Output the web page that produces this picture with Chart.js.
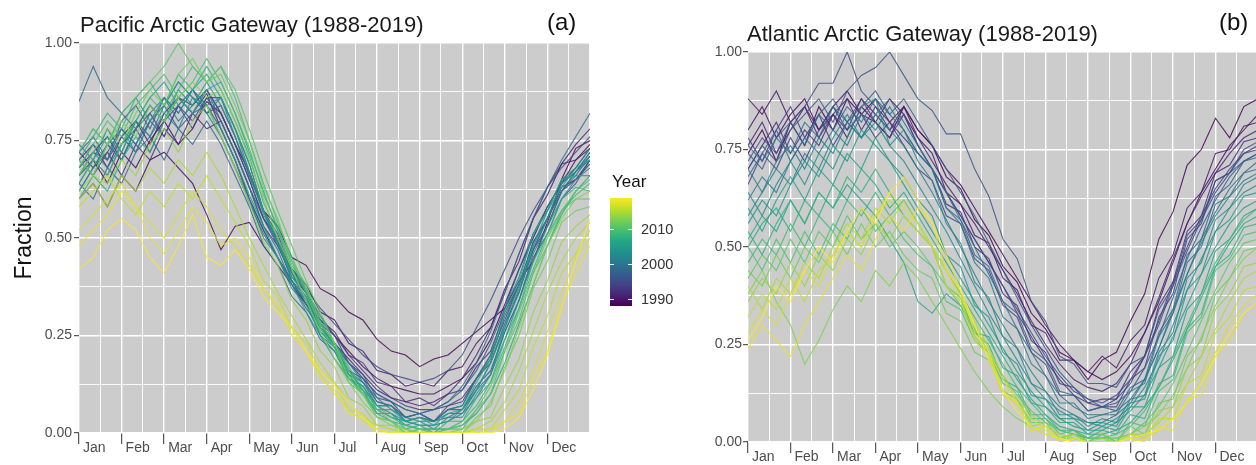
<!DOCTYPE html>
<html>
  <head>
    <title>Arctic Gateways - Fraction by Year (1988-2019)</title>
    <script src="https://cdn.jsdelivr.net/npm/chart.js"></script>
    <style>
      body {
        margin: 0;
        padding: 0;
        background: #fff;
        font-family: "Liberation Sans", Arial, sans-serif;
        overflow: hidden;
      }

      #page {
        position: relative;
        width: 1256px;
        height: 465px;
        overflow: hidden;
      }

      .title {
        position: absolute;
        font-size: 22px;
        line-height: 1;
        color: #1a1a1a;
        white-space: nowrap;
      }

      .tag {
        position: absolute;
        font-size: 24px;
        line-height: 1;
        color: #111;
      }

      #pacific-box {
        position: absolute;
        left: 0;
        top: 0;
      }

      #atlantic-box {
        position: absolute;
        left: 640px;
        top: 0;
      }

      #legend-title {
        position: absolute;
        left: 612px;
        top: 173px;
        font-size: 17px;
        line-height: 1;
        color: #111;
      }

      #colorbar {
        position: absolute;
        left: 610px;
        top: 198px;
        width: 22px;
        height: 108px;
      }

      .bar-tick {
        position: absolute;
        width: 4px;
        height: 1px;
        background: rgba(255, 255, 255, 0.9);
      }

      .bar-label {
        position: absolute;
        left: 641px;
        font-size: 14.5px;
        line-height: 1;
        color: #333;
      }
    </style>
  </head>
  <body>
    <div id="page">
      <div id="pacific-box">
        <canvas id="pacific-chart" width="592" height="465"></canvas>
      </div>
      <div id="atlantic-box">
        <canvas id="atlantic-chart" width="618" height="465"></canvas>
      </div>

      <div class="title" style="left: 80px; top: 14px">Pacific Arctic Gateway (1988-2019)</div>
      <div class="title" style="left: 747px; top: 23px">Atlantic Arctic Gateway (1988-2019)</div>
      <div class="tag" style="left: 547px; top: 10px">(a)</div>
      <div class="tag" style="left: 1219px; top: 10px">(b)</div>

      <div id="legend-title">Year</div>
      <div id="colorbar"></div>
      <div id="bar-ticks"></div>
    </div>

    <script>
      // x positions: dekads (about every 10 days) from Jan 1 (0) to Dec 31 (36)
      const dekads = [0, 1, 2, 3, 4, 5, 6, 7, 8, 9, 10, 11, 12, 13, 14, 15, 16, 17, 18,
        19, 20, 21, 22, 23, 24, 25, 26, 27, 28, 29, 30, 31, 32, 33, 34, 35, 36];
      const monthNames = ["Jan", "Feb", "Mar", "Apr", "May", "Jun", "Jul", "Aug", "Sep", "Oct", "Nov", "Dec"];
      const years = [1988, 1989, 1990, 1991, 1992, 1993, 1994, 1995, 1996, 1997, 1998, 1999,
        2000, 2001, 2002, 2003, 2004, 2005, 2006, 2007, 2008, 2009, 2010, 2011, 2012, 2013,
        2014, 2015, 2016, 2017, 2018, 2019];
      const legendYears = [1990, 2000, 2010];

      // Pacific Arctic Gateway, fraction in percent, one value per dekad
      const pac1988 = [66,70,64,72,68,75,80,74,78,85,82,74,67,57,53,45,43,37,35,31,29,24,21,20,17,19,20,23,26,29,32,39,44,54,65,73,75];
      const pac1989 = [60,64,58,66,62,70,72,68,64,56,47,53,54,48,43,38,33,29,25,21,17,14,12,11,10,10,12,14,18,24,33,42,50,58,64,70,74];
      const pac1990 = [70,74,68,76,80,74,82,86,84,88,82,74,65,55,50,42,38,31,29,23,21,16,15,12,13,12,16,17,23,27,37,44,55,61,69,70,73];
      const pac1991 = [72,68,74,70,78,84,80,86,82,87,78,70,60,52,45,39,33,28,23,19,15,11,9,8,7,8,10,14,20,27,36,46,55,63,69,74,78];
      const pac1992 = [62,68,72,66,74,70,78,74,82,78,80,72,63,53,48,40,36,29,26,20,18,13,12,8,9,7,10,11,17,21,31,38,49,55,63,65,70];
      const pac1993 = [68,72,76,70,78,82,76,84,88,82,84,76,66,57,49,42,36,30,25,20,16,12,9,7,6,6,7,9,14,20,29,38,47,55,62,67,72];
      const pac1994 = [64,70,66,74,78,72,80,84,78,86,86,78,69,57,51,41,36,28,25,18,15,9,8,4,5,3,7,8,14,18,28,36,47,53,62,65,69];
      const pac1995 = [70,66,72,78,74,80,76,84,80,86,80,72,63,55,48,42,37,32,28,24,20,17,15,14,13,14,16,20,27,34,42,50,57,63,68,72,76];
      const pac1996 = [66,72,70,76,72,80,84,78,82,88,82,74,65,55,49,39,35,27,23,16,14,8,7,4,5,3,6,6,12,16,26,34,45,51,60,64,70];
      const pac1997 = [72,76,70,80,84,78,86,82,88,84,78,70,60,52,45,38,32,27,22,18,14,10,8,6,5,6,8,11,16,23,32,42,51,58,64,68,73];
      const pac1998 = [64,60,68,64,72,76,70,78,74,80,74,66,58,48,43,35,31,24,21,14,12,7,7,3,4,3,6,7,14,19,30,38,49,55,64,67,71];
      const pac1999 = [85,94,86,82,78,84,80,86,82,84,76,68,59,51,45,39,33,28,23,18,14,10,8,6,5,6,8,12,18,26,36,46,55,63,70,76,82];
      const pac2000 = [68,74,70,78,74,82,86,80,84,88,80,72,63,53,47,38,34,26,23,16,13,8,7,4,5,3,5,5,11,15,26,34,46,53,62,66,71];
      const pac2001 = [74,70,78,72,80,76,84,90,86,82,86,76,66,57,48,41,34,28,23,18,13,9,6,4,3,3,4,6,11,18,27,37,47,55,62,67,70];
      const pac2002 = [66,72,68,74,80,76,82,78,86,82,76,68,60,50,45,37,33,25,22,15,13,7,7,3,4,3,6,7,14,20,32,40,51,57,65,68,73];
      const pac2003 = [70,66,74,78,72,80,86,82,88,84,86,78,67,57,49,41,34,28,22,16,11,7,5,3,2,2,3,5,9,15,24,34,44,53,60,65,68];
      const pac2004 = [62,68,74,70,78,84,80,88,84,90,84,76,67,56,49,39,34,25,21,14,11,5,5,2,3,1,4,4,10,15,27,36,48,55,64,67,72];
      const pac2005 = [72,78,74,82,86,80,84,90,86,84,78,70,61,53,45,38,31,25,19,14,10,6,4,3,2,2,3,6,11,18,28,38,48,57,63,68,70];
      const pac2006 = [66,70,76,72,80,86,90,84,88,92,86,78,69,57,50,40,35,26,22,15,12,6,6,3,4,2,5,6,13,19,31,39,51,57,65,66,66];
      const pac2007 = [60,66,62,70,76,72,80,86,82,88,90,82,72,62,52,44,36,29,22,15,10,5,3,2,1,1,1,2,5,10,18,28,38,48,56,62,66];
      const pac2008 = [70,76,82,78,86,90,84,92,88,94,88,80,71,59,52,42,36,27,22,14,11,5,5,1,2,0,3,3,9,13,24,32,44,51,60,63,62];
      const pac2009 = [64,70,66,74,80,86,82,88,94,90,94,86,75,64,54,45,37,30,23,17,11,7,4,2,1,1,1,3,7,13,22,32,42,51,57,61,64];
      const pac2010 = [68,74,80,76,84,88,92,86,90,96,90,82,73,61,53,43,37,27,22,13,10,4,3,0,1,0,1,1,6,10,21,29,41,48,57,60,60];
      const pac2011 = [72,78,74,82,86,90,94,100,94,90,94,88,78,67,57,48,39,31,23,16,10,6,3,1,0,0,1,2,6,12,21,31,41,50,57,62,65];
      const pac2012 = [66,72,78,74,82,88,84,92,96,90,92,84,75,63,55,44,38,28,23,14,10,4,3,0,1,0,0,0,4,7,17,25,37,44,54,57,58];
      const pac2013 = [70,66,74,80,76,84,80,86,90,86,88,80,70,60,50,42,34,26,19,13,8,4,2,1,0,0,0,1,3,8,16,27,38,48,55,60,62];
      const pac2014 = [62,66,64,70,66,74,78,72,80,84,76,68,59,49,43,34,29,21,17,9,7,2,2,0,0,0,0,0,3,4,12,19,31,39,49,53,56];
      const pac2015 = [60,64,58,66,62,68,64,70,66,72,66,58,50,43,36,30,24,18,13,8,4,2,1,0,0,0,0,0,1,3,8,16,26,36,44,50,54];
      const pac2016 = [58,62,66,60,56,62,58,64,60,66,60,54,48,39,35,27,23,16,13,6,5,1,0,0,0,0,0,0,1,1,6,11,22,30,41,46,52];
      const pac2017 = [52,56,60,64,58,54,50,56,62,58,52,48,43,37,32,27,21,15,10,6,3,1,0,0,0,0,0,0,0,1,3,8,16,26,36,45,50];
      const pac2018 = [48,52,56,62,58,50,46,52,58,54,48,50,45,37,33,25,21,14,11,5,4,0,0,0,0,0,0,0,0,0,3,5,14,21,33,41,48];
      const pac2019 = [42,45,52,55,52,45,41,48,56,45,43,47,42,35,31,27,21,16,12,8,4,1,0,0,0,0,0,0,0,0,1,4,11,20,32,44,55];

      // Atlantic Arctic Gateway, fraction in percent, one value per dekad
      const atl1988 = [74,80,72,82,76,86,80,88,84,82,78,86,80,76,68,65,57,53,45,41,33,29,23,21,16,21,23,31,38,52,59,71,75,83,78,86,88];
      const atl1989 = [80,86,78,84,88,80,86,90,84,88,82,86,80,76,70,66,60,54,48,42,36,30,25,21,18,16,18,22,28,36,46,56,64,70,76,80,84];
      const atl1990 = [88,84,90,82,86,80,84,78,86,82,88,84,78,74,64,61,53,51,42,39,30,28,21,21,18,22,19,26,30,42,48,60,64,74,75,81,82];
      const atl1991 = [76,82,74,80,86,78,84,80,88,84,80,86,78,72,66,61,56,50,44,38,31,25,20,16,14,13,15,20,28,37,47,56,63,69,74,78,80];
      const atl1992 = [70,76,82,74,80,76,84,88,80,86,82,78,74,70,61,59,50,47,38,35,26,23,15,14,10,11,11,18,22,35,41,54,58,69,71,77,78];
      const atl1993 = [78,72,80,86,78,84,76,82,88,82,78,84,76,70,64,58,52,46,40,33,27,21,16,12,10,9,11,15,22,31,41,50,58,65,70,74,76];
      const atl1994 = [66,74,70,78,72,80,86,80,84,78,82,76,70,67,58,56,47,44,35,32,23,20,12,12,8,9,9,16,19,32,38,52,56,67,69,74,75];
      const atl1995 = [72,78,74,82,86,92,92,100,90,86,80,84,76,70,64,58,52,46,40,34,28,22,17,13,11,10,12,16,22,30,40,49,57,64,69,72,74];
      const atl1996 = [70,76,72,80,84,88,82,90,94,96,100,94,88,85,79,79,70,63,52,47,36,31,22,20,15,15,14,20,22,34,40,53,57,67,69,75,77];
      const atl1997 = [74,70,78,82,76,84,88,82,86,90,84,88,82,76,70,64,58,51,44,37,30,24,18,14,11,9,10,13,19,27,37,47,55,62,68,72,74];
      const atl1998 = [68,74,80,72,78,84,80,86,82,88,84,80,74,70,60,57,48,45,36,33,24,21,13,12,8,9,8,14,16,28,34,48,52,63,66,72,73];
      const atl1999 = [76,72,78,74,82,78,86,82,78,84,88,82,76,70,64,57,50,43,36,29,23,17,12,9,7,7,8,11,16,24,33,43,52,59,65,69,72];
      const atl2000 = [62,68,64,72,78,74,80,76,84,80,86,80,74,70,60,56,46,42,32,29,20,17,10,10,6,7,7,13,15,27,33,46,50,61,63,69,70];
      const atl2001 = [70,64,72,76,70,78,74,82,78,84,80,76,70,64,57,50,43,36,30,24,18,13,9,7,5,5,7,10,16,24,34,43,51,58,63,67,69];
      const atl2002 = [58,64,70,66,74,70,78,84,78,82,76,80,72,67,56,51,41,37,27,24,15,13,7,7,4,6,5,11,12,23,28,42,46,57,60,66,68];
      const atl2003 = [64,58,66,72,66,74,70,78,86,88,76,72,66,60,54,47,40,33,27,21,15,11,8,6,5,4,6,9,14,21,30,39,47,54,60,64,66];
      const atl2004 = [56,62,58,66,72,68,76,72,80,76,72,68,62,58,48,45,35,32,23,20,12,11,6,6,3,5,4,10,11,22,26,39,43,54,57,63,64];
      const atl2005 = [60,54,62,68,62,70,66,74,70,78,72,66,60,54,48,42,36,30,24,18,13,9,6,4,3,3,5,8,12,19,27,35,43,50,56,60,62];
      const atl2006 = [52,58,54,62,56,64,60,66,62,58,52,46,36,33,38,35,28,27,19,17,10,9,5,5,2,4,3,9,9,19,22,34,38,49,52,58,60];
      const atl2007 = [50,56,60,54,62,58,66,62,70,66,60,64,58,52,46,40,34,28,22,16,11,7,4,3,2,2,3,5,9,14,21,29,37,45,51,56,58];
      const atl2008 = [54,48,56,62,56,64,60,68,64,70,64,58,54,50,40,37,28,25,16,14,7,7,3,3,1,3,2,7,6,15,17,29,33,45,48,55,56];
      const atl2009 = [46,52,48,56,50,58,54,62,58,64,58,62,56,50,44,38,32,26,20,14,10,6,3,2,1,1,2,4,8,14,22,30,38,46,52,57,60];
      const atl2010 = [50,44,52,46,54,48,56,52,60,54,58,52,48,45,36,34,26,23,15,13,6,6,2,3,0,2,0,5,4,13,16,28,32,44,47,53,54];
      const atl2011 = [42,48,44,52,46,54,50,58,52,56,50,54,50,45,40,35,29,23,17,12,8,5,3,2,1,1,1,2,5,9,15,23,31,39,46,51,52];
      const atl2012 = [44,40,48,42,50,46,54,48,56,50,54,48,44,42,33,31,23,21,13,11,5,5,1,2,0,2,0,4,2,10,11,22,26,38,42,49,50];
      const atl2013 = [38,44,36,30,20,26,34,40,36,44,40,46,42,36,30,24,18,13,9,6,4,2,1,1,0,0,1,2,4,7,12,19,27,35,42,47,50];
      const atl2014 = [36,42,38,46,40,48,44,52,48,56,52,58,54,50,40,37,27,23,13,11,4,5,1,2,0,1,0,2,2,8,9,19,22,34,38,45,46];
      const atl2015 = [40,34,42,38,46,42,50,56,52,60,56,62,56,50,44,38,31,24,17,11,7,4,2,1,0,0,0,1,2,5,9,15,22,29,36,42,44];
      const atl2016 = [32,38,34,42,36,44,48,54,50,58,62,58,54,50,40,36,26,22,12,10,3,4,0,1,0,0,0,2,1,6,6,15,17,28,32,39,40];
      const atl2017 = [28,34,30,38,44,40,48,54,50,58,64,60,56,50,44,37,30,23,16,10,6,3,1,0,0,0,0,0,1,3,6,10,16,23,30,35,38];
      const atl2018 = [24,30,26,22,30,36,42,48,44,52,58,54,60,56,44,39,28,23,13,10,3,4,0,1,0,0,0,1,0,4,3,11,12,22,26,33,36];
      const atl2019 = [26,32,40,36,44,50,46,54,60,56,64,68,62,56,48,39,30,21,13,8,4,2,1,0,0,0,0,1,2,3,6,10,15,22,28,33,36];

      const pacificSeries = [pac1988, pac1989, pac1990, pac1991, pac1992, pac1993, pac1994, pac1995,
        pac1996, pac1997, pac1998, pac1999, pac2000, pac2001, pac2002, pac2003, pac2004, pac2005,
        pac2006, pac2007, pac2008, pac2009, pac2010, pac2011, pac2012, pac2013, pac2014, pac2015,
        pac2016, pac2017, pac2018, pac2019];
      const atlanticSeries = [atl1988, atl1989, atl1990, atl1991, atl1992, atl1993, atl1994, atl1995,
        atl1996, atl1997, atl1998, atl1999, atl2000, atl2001, atl2002, atl2003, atl2004, atl2005,
        atl2006, atl2007, atl2008, atl2009, atl2010, atl2011, atl2012, atl2013, atl2014, atl2015,
        atl2016, atl2017, atl2018, atl2019];

      // viridis colour map
      const viridisStops = ["#440154", "#482475", "#414487", "#355f8d", "#2a788e", "#21918c",
        "#22a884", "#44bf70", "#7ad151", "#bddf26", "#fde725"];

      function hexToRgb(hex) {
        const n = parseInt(hex.slice(1), 16);
        return [(n >> 16) & 255, (n >> 8) & 255, n & 255];
      }

      function viridis(t, alpha) {
        const p = Math.min(Math.max(t, 0), 1) * (viridisStops.length - 1);
        const i = Math.min(Math.floor(p), viridisStops.length - 2);
        const f = p - i;
        const a = hexToRgb(viridisStops[i]);
        const b = hexToRgb(viridisStops[i + 1]);
        const c = a.map((v, k) => Math.round(v + (b[k] - v) * f));
        return `rgba(${c[0]}, ${c[1]}, ${c[2]}, ${alpha})`;
      }

      const firstYear = years[0];
      const lastYear = years[years.length - 1];
      const yearT = (yr) => (yr - firstYear) / (lastYear - firstYear);

      // legend colour bar
      document.getElementById("colorbar").style.background =
        "linear-gradient(to top, " + viridisStops.join(", ") + ")";
      const barTop = 198;
      const barHeight = 108;
      const tickBox = document.getElementById("bar-ticks");
      legendYears.forEach((yr) => {
        const y = barTop + barHeight * (1 - yearT(yr));
        [610, 628].forEach((x) => {
          const t = document.createElement("div");
          t.className = "bar-tick";
          t.style.left = x + "px";
          t.style.top = Math.round(y) + "px";
          tickBox.appendChild(t);
        });
        const label = document.createElement("div");
        label.className = "bar-label";
        label.textContent = yr;
        label.style.top = Math.round(y - 7) + "px";
        tickBox.appendChild(label);
      });

      Chart.defaults.font.family = '"Liberation Sans", Arial, sans-serif';

      // gray panel like ggplot
      const panelBackground = {
        id: "panelBackground",
        beforeDraw(chart) {
          const { ctx, chartArea: a } = chart;
          ctx.save();
          ctx.fillStyle = "#cccccc";
          ctx.fillRect(a.left, a.top, a.right - a.left, a.bottom - a.top);
          ctx.restore();
        },
      };

      const xGrid = [];
      for (let v = 0; v <= 36; v += 1.5) xGrid.push(v);
      const yGrid = [0, 0.125, 0.25, 0.375, 0.5, 0.625, 0.75, 0.875, 1];

      const isMonthStart = (v) => v % 3 === 0 && v < 36;
      const isMajorY = (v) => Math.abs(v * 4 - Math.round(v * 4)) < 1e-6;

      function createChart(canvasId, series, cfg) {
        const ctx = document.getElementById(canvasId).getContext("2d");
        const datasets = years.map((yr, i) => ({
          label: String(yr),
          data: series[i].map((v, k) => ({ x: dekads[k], y: v / 100 })),
          borderColor: viridis(yearT(yr), 0.85),
          borderWidth: 1.1,
          pointRadius: 0,
          tension: 0,
          order: 2020 - yr,
        }));

        return new Chart(ctx, {
          type: "line",
          data: { datasets },
          plugins: [panelBackground],
          options: {
            responsive: false,
            animation: false,
            events: [],
            layout: { padding: { top: cfg.top, left: 0, right: cfg.right, bottom: 0 } },
            plugins: {
              legend: { display: false },
              tooltip: { enabled: false },
            },
            scales: {
              x: {
                type: "linear",
                min: 0,
                max: 36,
                afterBuildTicks: (scale) => {
                  scale.ticks = xGrid.map((value) => ({ value }));
                },
                afterFit: (scale) => {
                  scale.height = cfg.xHeight;
                },
                border: { display: false },
                grid: {
                  color: "#ffffff",
                  lineWidth: (c) => (c.tick && c.tick.value % 3 === 0 ? 1.4 : 0.9),
                  tickColor: (c) => (c.tick && isMonthStart(c.tick.value) ? "#333333" : "rgba(0,0,0,0)"),
                  tickWidth: 1,
                  tickLength: 11,
                },
                ticks: {
                  autoSkip: false,
                  maxRotation: 0,
                  align: "start",
                  labelOffset: 4,
                  padding: -4,
                  color: "#4d4d4d",
                  font: { size: 14 },
                  callback: (v) => (isMonthStart(v) ? monthNames[v / 3] : ""),
                },
              },
              y: {
                min: 0,
                max: 1,
                afterBuildTicks: (scale) => {
                  scale.ticks = yGrid.map((value) => ({ value }));
                },
                afterFit: (scale) => {
                  scale.width = cfg.yWidth;
                },
                border: { display: false },
                grid: {
                  color: "#ffffff",
                  lineWidth: (c) => (c.tick && isMajorY(c.tick.value) ? 1.4 : 0.9),
                  tickColor: (c) => (c.tick && isMajorY(c.tick.value) ? "#333333" : "rgba(0,0,0,0)"),
                  tickWidth: 1,
                  tickLength: 5,
                },
                ticks: {
                  autoSkip: false,
                  padding: cfg.yPad,
                  color: "#4d4d4d",
                  font: { size: 14 },
                  callback: (v) => (isMajorY(v) ? v.toFixed(2) : ""),
                },
                title: {
                  display: cfg.yTitle,
                  text: "Fraction",
                  color: "#111",
                  font: { size: 23 },
                  padding: { top: 11, bottom: 0 },
                },
              },
            },
          },
        });
      }

      createChart("pacific-chart", pacificSeries, {
        top: 43, right: 2, xHeight: 32, yWidth: 79, yPad: 2, yTitle: true,
      });
      createChart("atlantic-chart", atlanticSeries, {
        top: 52, right: 0, xHeight: 23, yWidth: 108, yPad: 1, yTitle: false,
      });
    </script>
  </body>
</html>
